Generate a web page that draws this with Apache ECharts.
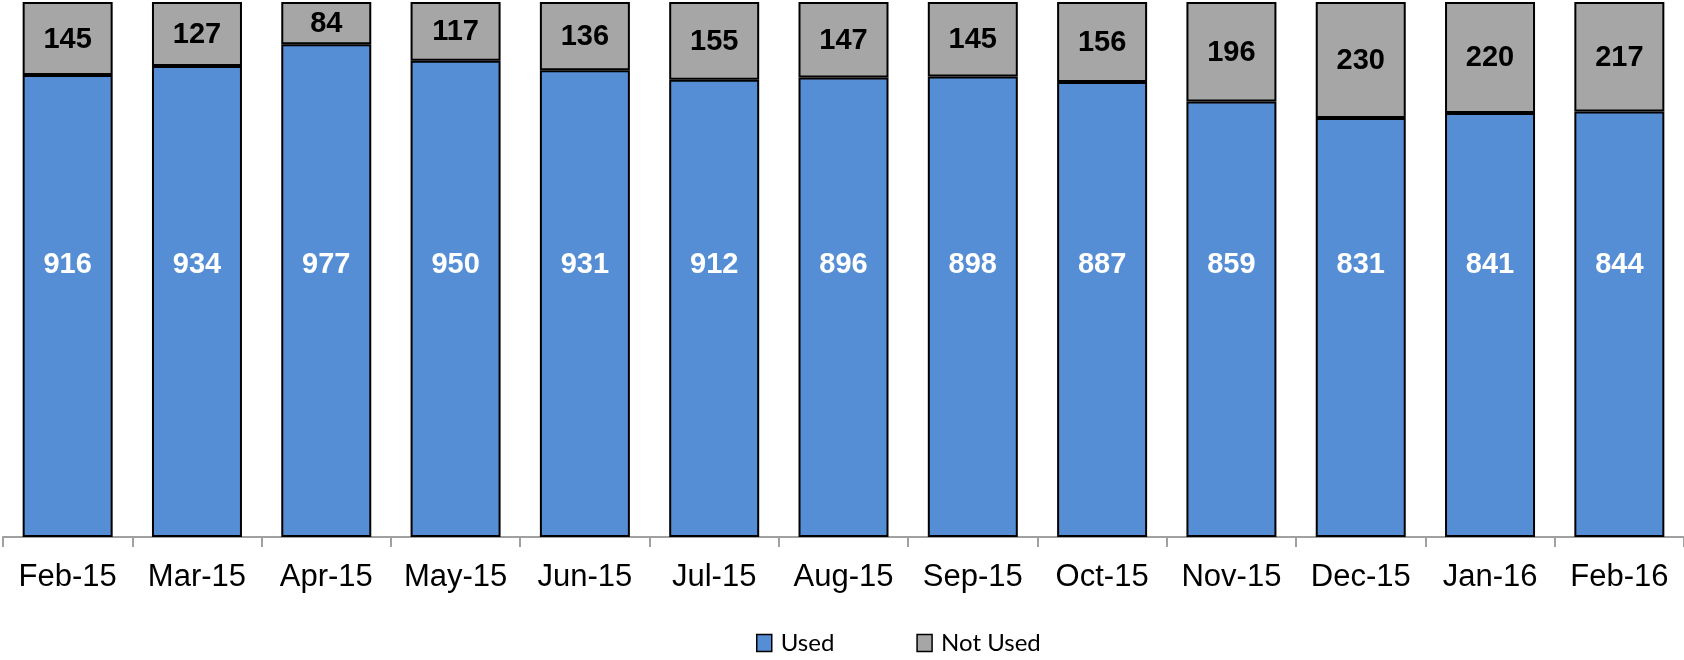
<!DOCTYPE html>
<html>
<head>
<meta charset="utf-8">
<script src="https://cdn.jsdelivr.net/npm/echarts@6/dist/echarts.min.js"></script>
<style>
html,body{margin:0;padding:0;background:#fff;}
#chart{width:1684px;height:660px;}
</style>
</head>
<body>
<div id="chart"></div>
<script>
const categories = ['Feb-15','Mar-15','Apr-15','May-15','Jun-15','Jul-15','Aug-15','Sep-15','Oct-15','Nov-15','Dec-15','Jan-16','Feb-16'];
const usedValues = [916, 934, 977, 950, 931, 912, 896, 898, 887, 859, 831, 841, 844];
const notUsedValues = [145, 127, 84, 117, 136, 155, 147, 145, 156, 196, 230, 220, 217];
const seriesNames = ['Used', 'Not Used'];

// 100% stacked: each bar shows share of the month's total, labels show raw counts
const totals = usedValues.map((v, i) => v + notUsedValues[i]);
const usedPct = usedValues.map((v, i) => ({value: v / totals[i] * 100, raw: v}));
const notUsedPct = notUsedValues.map((v, i) => ({value: v / totals[i] * 100, raw: v}));

const chart = echarts.init(document.getElementById('chart'), null, {renderer: 'canvas'});
const option = {
  animation: false,
  backgroundColor: '#ffffff',
  grid: {left: 3, right: 0, top: 2, bottom: 123, containLabel: false},
  legend: {
    top: 631,
    left: 756,
    padding: 0,
    icon: 'rect',
    itemWidth: 15,
    itemHeight: 17,
    itemGap: 82,
    itemStyle: {borderColor: '#000', borderWidth: 1.5},
    textStyle: {fontFamily: 'Lato', fontSize: 24, color: '#000', padding: [0, 0, 0, 4]},
    data: seriesNames
  },
  xAxis: {
    type: 'category',
    data: categories,
    axisLine: {lineStyle: {color: '#a0a0a0', width: 2}},
    axisTick: {show: true, length: 10, lineStyle: {color: '#a0a0a0', width: 2}},
    axisLabel: {interval: 0, fontFamily: 'Liberation Sans', fontSize: 31, color: '#000', margin: 25}
  },
  yAxis: {
    type: 'value',
    min: 0,
    max: 100,
    show: false,
    splitLine: {show: false}
  },
  series: [
    {
      name: seriesNames[0],
      type: 'bar',
      stack: 'total',
      data: usedPct,
      barWidth: 90,
      itemStyle: {color: '#558ed5', borderColor: '#000', borderWidth: 2},
      label: {
        show: true,
        position: 'insideBottom',
        distance: 258,
        formatter: p => p.data.raw,
        fontFamily: 'Liberation Sans',
        fontWeight: 'bold',
        fontSize: 29,
        color: '#ffffff'
      }
    },
    {
      name: seriesNames[1],
      type: 'bar',
      stack: 'total',
      data: notUsedPct,
      barWidth: 90,
      itemStyle: {color: '#a6a6a6', borderColor: '#000', borderWidth: 2},
      label: {
        show: true,
        position: 'inside',
        offset: [0, 1],
        formatter: p => p.data.raw,
        fontFamily: 'Liberation Sans',
        fontWeight: 'bold',
        fontSize: 29,
        color: '#000000'
      }
    }
  ]
};
chart.setOption(option);
</script>
</body>
</html>
